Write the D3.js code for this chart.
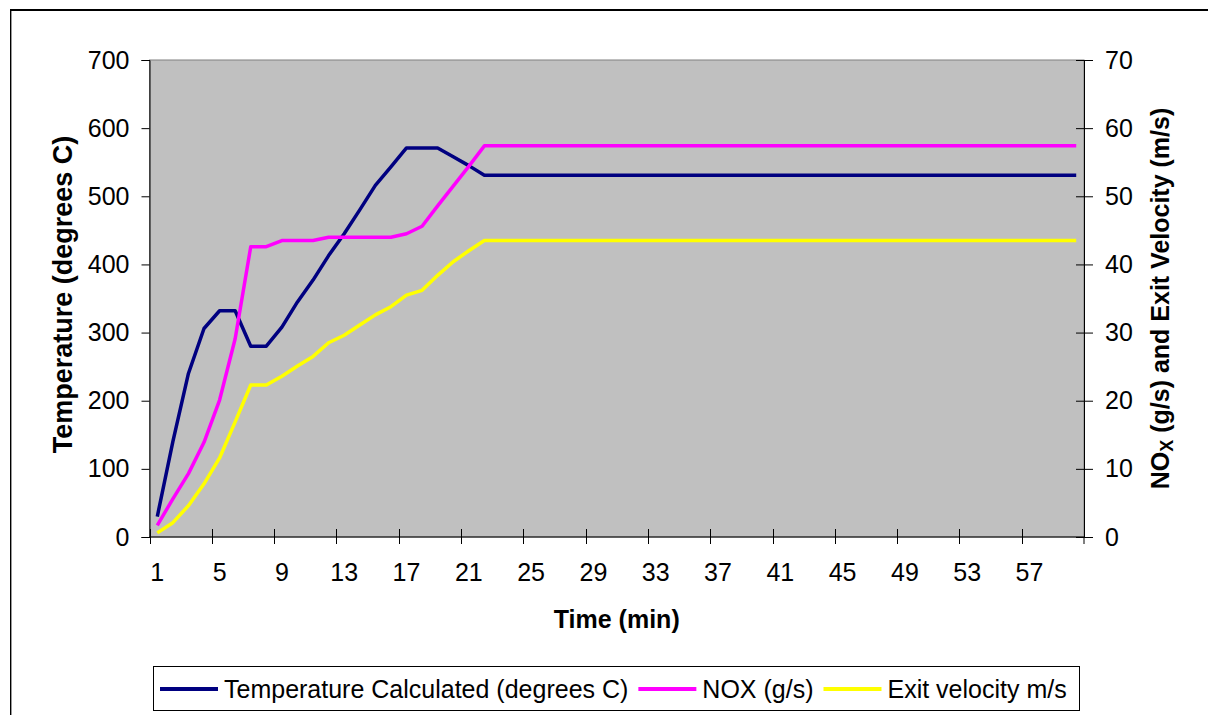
<!DOCTYPE html>
<html>
<head>
<meta charset="utf-8">
<script src="https://cdn.jsdelivr.net/npm/d3@7"></script>
<style>
  body { margin: 0; background: #fff; }
  text { font-family: "Liberation Sans", Arial, sans-serif; fill: #000; }
</style>
</head>
<body>
<svg id="svg1" width="1208" height="715"></svg>
<script>
"use strict";

// time categories (min)
const timeMin = [1, 2, 3, 4, 5, 6, 7, 8, 9, 10, 11, 12, 13, 14, 15, 16, 17, 18, 19, 20,
  21, 22, 23, 24, 25, 26, 27, 28, 29, 30, 31, 32, 33, 34, 35, 36, 37, 38, 39, 40,
  41, 42, 43, 44, 45, 46, 47, 48, 49, 50, 51, 52, 53, 54, 55, 56, 57, 58, 59, 60];

// temperature calculated (degrees C) - left axis
const temperature = [30, 140, 240, 306, 332, 332, 280, 280, 308, 345, 377, 413, 445, 480, 516, 543, 571, 571, 571, 558,
  545, 531, 531, 531, 531, 531, 531, 531, 531, 531, 531, 531, 531, 531, 531, 531, 531, 531, 531, 531,
  531, 531, 531, 531, 531, 531, 531, 531, 531, 531, 531, 531, 531, 531, 531, 531, 531, 531, 531, 531];

// NOX (g/s) - right axis
const nox = [1.7, 5.6, 9.3, 13.9, 20.1, 29.1, 42.6, 42.6, 43.5, 43.5, 43.5, 44.0, 44.0, 44.0, 44.0, 44.0, 44.5, 45.6, 48.6, 51.5,
  54.4, 57.4, 57.4, 57.4, 57.4, 57.4, 57.4, 57.4, 57.4, 57.4, 57.4, 57.4, 57.4, 57.4, 57.4, 57.4, 57.4, 57.4, 57.4, 57.4,
  57.4, 57.4, 57.4, 57.4, 57.4, 57.4, 57.4, 57.4, 57.4, 57.4, 57.4, 57.4, 57.4, 57.4, 57.4, 57.4, 57.4, 57.4, 57.4, 57.4];

// exit velocity (m/s) - right axis
const exitVelocity = [0.6, 2.1, 4.6, 7.8, 11.6, 16.9, 22.3, 22.3, 23.6, 25.1, 26.5, 28.5, 29.6, 31.1, 32.6, 33.8, 35.5, 36.2, 38.4, 40.4,
  42.0, 43.5, 43.5, 43.5, 43.5, 43.5, 43.5, 43.5, 43.5, 43.5, 43.5, 43.5, 43.5, 43.5, 43.5, 43.5, 43.5, 43.5, 43.5, 43.5,
  43.5, 43.5, 43.5, 43.5, 43.5, 43.5, 43.5, 43.5, 43.5, 43.5, 43.5, 43.5, 43.5, 43.5, 43.5, 43.5, 43.5, 43.5, 43.5, 43.5];

const leftTicks = [0, 100, 200, 300, 400, 500, 600, 700];
const rightTicks = [0, 10, 20, 30, 40, 50, 60, 70];
const xTickLabels = [1, 5, 9, 13, 17, 21, 25, 29, 33, 37, 41, 45, 49, 53, 57];

const seriesNames = ["Temperature Calculated (degrees C)", "NOX (g/s)", "Exit velocity m/s"];
const seriesColors = ["#000080", "#FF00FF", "#FFFF00"];

const svg = d3.select("#svg1");

const plotLeft = 149.5, plotRight = 1084, plotTop = 60, plotBottom = 537;

const x = d3.scaleBand().domain(timeMin).range([plotLeft, plotRight]);
const yL = d3.scaleLinear().domain([0, 700]).range([plotBottom, plotTop]);
const yR = d3.scaleLinear().domain([0, 70]).range([plotBottom, plotTop]);

// outer chart frame
svg.append("line").attr("x1", 10).attr("x2", 1208).attr("y1", 10).attr("y2", 10)
  .attr("stroke", "#000").attr("stroke-width", 2);
svg.append("line").attr("x1", 10.5).attr("x2", 10.5).attr("y1", 10).attr("y2", 715)
  .attr("stroke", "#000").attr("stroke-width", 1);
svg.append("line").attr("x1", 11.5).attr("x2", 11.5).attr("y1", 11).attr("y2", 715)
  .attr("stroke", "#999").attr("stroke-width", 1);

// plot area
svg.append("rect")
  .attr("x", plotLeft).attr("y", plotTop)
  .attr("width", plotRight - plotLeft).attr("height", plotBottom - plotTop)
  .attr("fill", "#C0C0C0")
  .attr("stroke", "#808080").attr("stroke-width", 1);

// left axis
const gL = svg.append("g")
  .attr("transform", `translate(${plotLeft},0)`)
  .call(d3.axisLeft(yL).tickValues(leftTicks).tickSize(8).tickPadding(12));
gL.select(".domain").attr("stroke", "#000");
gL.selectAll(".tick text").style("font-size", "25px");

// right axis (ticks cross the line)
const gR = svg.append("g")
  .attr("transform", `translate(${plotRight},0)`)
  .call(d3.axisRight(yR).tickValues(rightTicks).tickSize(9).tickPadding(12));
gR.selectAll(".tick line").attr("x1", -8);
gR.selectAll(".tick text").style("font-size", "25px");

// bottom axis: labels at category centres, ticks on category boundaries
const gB = svg.append("g")
  .attr("transform", `translate(0,${plotBottom})`)
  .call(d3.axisBottom(x).tickValues(xTickLabels).tickSize(0).tickPadding(26));
gB.select(".domain").remove();
gB.selectAll(".tick text").style("font-size", "25px");

svg.append("line")
  .attr("x1", plotLeft).attr("x2", plotRight).attr("y1", plotBottom).attr("y2", plotBottom)
  .attr("stroke", "#000");
svg.append("g").selectAll("line")
  .data(xTickLabels)
  .enter().append("line")
  .attr("x1", d => Math.round(x(d)) + 0.5).attr("x2", d => Math.round(x(d)) + 0.5)
  .attr("y1", plotBottom - 8).attr("y2", plotBottom + 7)
  .attr("stroke", "#000");
svg.append("line")
  .attr("x1", plotRight).attr("x2", plotRight).attr("y1", plotBottom).attr("y2", plotBottom + 7)
  .attr("stroke", "#000");

// series lines
const cx = d => x(d) + x.bandwidth() / 2;
const series = [
  { values: temperature, scale: yL },
  { values: nox, scale: yR },
  { values: exitVelocity, scale: yR }
];
series.forEach((s, i) => {
  const line = d3.line()
    .x((d, j) => cx(timeMin[j]))
    .y(d => s.scale(d));
  svg.append("path")
    .datum(s.values)
    .attr("fill", "none")
    .attr("stroke", seriesColors[i])
    .attr("stroke-width", 3.5)
    .attr("stroke-linejoin", "round")
    .attr("d", line);
});

// axis titles
svg.append("text")
  .attr("transform", `translate(72,${(plotTop + plotBottom) / 2 - 4}) rotate(-90)`)
  .attr("text-anchor", "middle")
  .style("font-size", "27px").style("font-weight", "bold")
  .text("Temperature (degrees C)");

const rt = svg.append("text")
  .attr("transform", `translate(1169,${(plotTop + plotBottom) / 2}) rotate(-90)`)
  .attr("text-anchor", "middle")
  .style("font-size", "25px").style("font-weight", "bold");
rt.append("tspan").text("NO");
rt.append("tspan").attr("dy", 4).style("font-size", "18px").text("X");
rt.append("tspan").attr("dy", -4).text(" (g/s) and Exit Velocity (m/s)");

svg.append("text")
  .attr("x", (plotLeft + plotRight) / 2).attr("y", 628)
  .attr("text-anchor", "middle")
  .style("font-size", "25px").style("font-weight", "bold")
  .text("Time (min)");

// legend
const legend = svg.append("g");
legend.append("rect")
  .attr("x", 153.5).attr("y", 666.5).attr("width", 926).attr("height", 44)
  .attr("fill", "#fff").attr("stroke", "#000");
let lx = 160;
seriesNames.forEach((name, i) => {
  legend.append("line")
    .attr("x1", lx).attr("x2", lx + 58).attr("y1", 689).attr("y2", 689)
    .attr("stroke", seriesColors[i]).attr("stroke-width", 4);
  const t = legend.append("text")
    .attr("x", lx + 64).attr("y", 698)
    .style("font-size", "25px")
    .text(name);
  lx += 64 + t.node().getComputedTextLength() + 10;
});
</script>
</body>
</html>
